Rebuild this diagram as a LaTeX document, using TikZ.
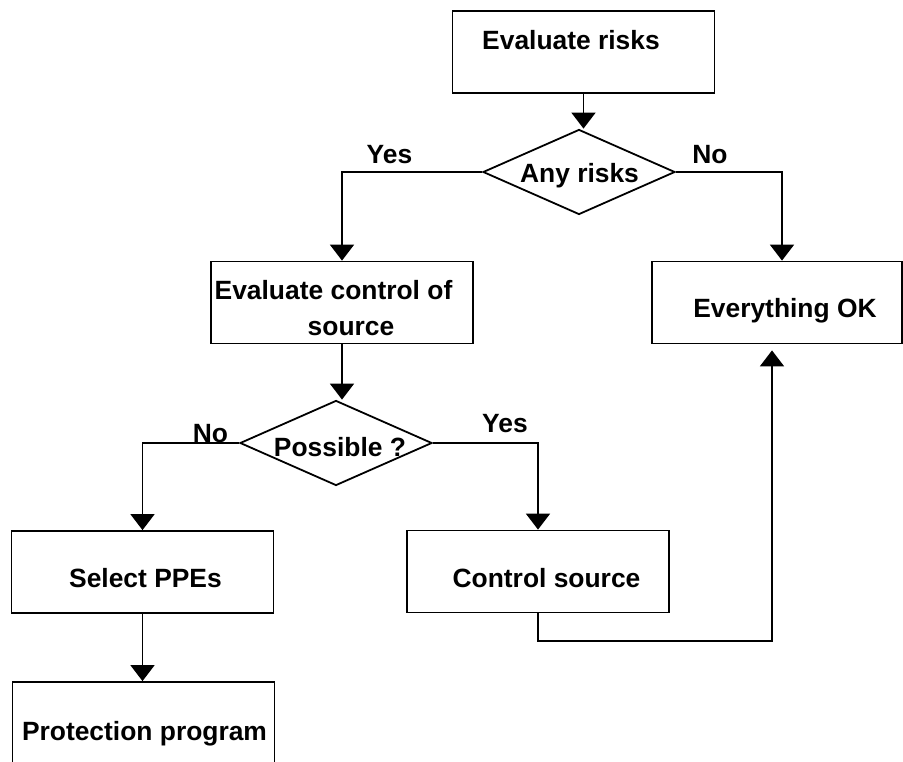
\documentclass[tikz,border=0pt]{standalone}
\usepackage{fontspec}
\setmainfont{Liberation Sans}
\usetikzlibrary{shapes.geometric,arrows.meta}
\begin{document}
\begin{tikzpicture}[x=1pt,y=-1pt,
  box/.style={draw,line width=1.8pt,rectangle,inner sep=0pt,minimum width=#1,minimum height=82pt},
  box/.default=262pt,
  dia/.style={draw,line width=1.8pt,diamond,inner sep=0pt,minimum width=192pt,minimum height=85pt},
  txt/.style={anchor=base,inner sep=0pt,font=\fontsize{26.4}{32}\selectfont\bfseries},
  conn/.style={line width=1.8pt},
  arr/.style={conn,-{Triangle[width=24pt,length=16pt]}}]
\useasboundingbox (0,0) rectangle (903,762);
\fill[white] (0,0) rectangle (903,762);
\clip (0,0) rectangle (903,762);
% boxes
\node[box] (er) at (583.5,52) {};
\node[dia] (ar) at (579,172) {};
\node[box] (ec) at (342,302.5) {};
\node[box=250pt] (ok) at (777,302.5) {};
\node[dia] (ps) at (336,443) {};
\node[box] (sp) at (142.5,572) {};
\node[box] (cs) at (538,571.5) {};
\node[box] (pp) at (143.5,723) {};
% texts
\node[txt] (erT) at (571,50) {Evaluate risks};
\node[txt] (arT) at (579.5,183) {Any risks};
\node[txt] (ecT1) at (333.5,300) {Evaluate control of};
\node[txt] (ecT2) at (351,335) {source};
\node[txt] (okT) at (785,317) {Everything OK};
\node[txt] (psT) at (340,456) {Possible ?};
\node[txt] (spT) at (145.5,587) {Select PPEs};
\node[txt] (csT) at (546.5,587) {Control source};
\node[txt] (ppT) at (144.5,740) {Protection program};
% branch labels
\node[txt] (yes1) at (389.5,164) {Yes};
\node[txt] (no1) at (710,164) {No};
\node[txt] (no2) at (210.5,442) {No};
\node[txt] (yes2) at (505,432) {Yes};
% connectors
\coordinate (turn) at (772,641);
\draw[arr] (er.south) -- (er.south |- ar.north);
\draw[arr] (ar.west) -| (ec.north);
\draw[arr] (ar.east) -| ([xshift=5pt]ok.north);
\draw[arr] (ec.south) -- (ec.south |- ps.north);
\draw[arr] (ps.west) -| (sp.north);
\draw[arr] (ps.east) -| (cs.north);
\draw[arr] (sp.south) -- (sp.south |- pp.north);
\draw[arr] (cs.south) |- (turn) -- ([xshift=-5pt,yshift=-6pt]ok.south);
\end{tikzpicture}
\end{document}
